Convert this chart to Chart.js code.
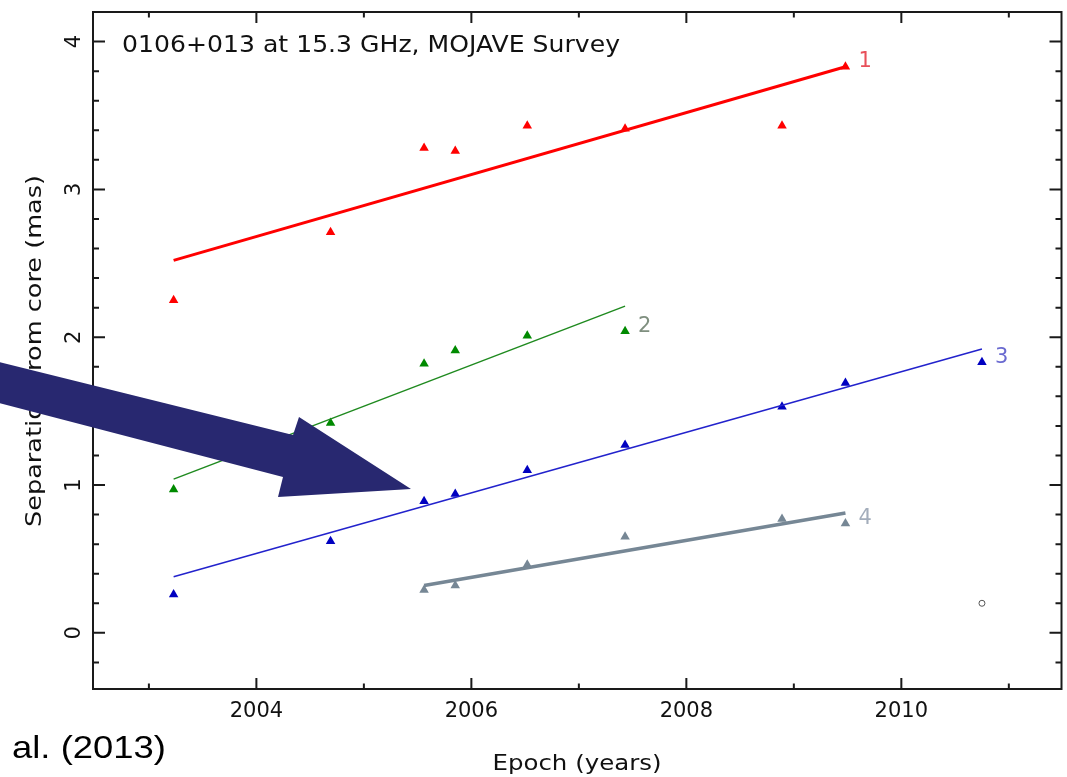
<!DOCTYPE html>
<html>
<head>
<meta charset="utf-8">
<script src="https://cdn.jsdelivr.net/npm/chart.js@4"></script>
<style>
  html, body { margin: 0; padding: 0; background: #ffffff; }
  #wrap { width: 1067px; height: 777px; }
</style>
</head>
<body>
<div id="wrap"><canvas id="c" width="1067" height="777"></canvas></div>
<script>
// ---- data ----
const epochs = [2003.23, 2004.69, 2005.56, 2005.85, 2006.52, 2007.43, 2008.89, 2009.48, 2010.75];
const comp1 = [2.25, 2.71, 3.28, 3.26, 3.43, 3.41, 3.43, 3.83];          // epochs 0..7
const comp2 = [0.97, 1.42, 1.82, 1.91, 2.01, 2.04];                      // epochs 0..5
const comp3 = [0.26, 0.62, 0.89, 0.94, 1.10, 1.27, 1.53, 1.69, 1.83];    // epochs 0..8
const comp4 = [0.29, 0.32, 0.46, 0.65, 0.77, 0.74];                      // epochs 2..7
const comp4Start = 2;
const coreEpoch = [2010.75];
const coreSep = [0.20];
// linear fits: [startEpoch, startSep, endEpoch, endSep]
const fit1 = [2003.23, 2.52, 2009.48, 3.83];
const fit2 = [2003.23, 1.04, 2007.43, 2.21];
const fit3 = [2003.23, 0.38, 2010.75, 1.92];
const fit4 = [2005.56, 0.32, 2009.48, 0.81];
const compLabels = ['1', '2', '3', '4'];
// ticks
const xMajor = [2004, 2006, 2008, 2010];
const xMinor = [2003, 2005, 2007, 2009, 2011];
const yMajor = [0, 1, 2, 3, 4];
const yMinor = [-0.2, 0.2, 0.4, 0.6, 0.8, 1.2, 1.4, 1.6, 1.8, 2.2, 2.4, 2.6, 2.8, 3.2, 3.4, 3.6, 3.8];
const xRange = [2002.48, 2011.49];
const yRange = [-0.38, 4.20];
const titleText = '0106+013 at 15.3 GHz, MOJAVE Survey';
const xTitle = 'Epoch (years)';
const yTitle = 'Separation from core (mas)';
const citeText = 'al. (2013)';

const colRed = '#ff0000', colGreen = '#008a00', colBlue = '#0000c0', colGray = '#768795';

function pts(vals, start) { return vals.map((v, i) => ({ x: epochs[start + i], y: v })); }
function fitPts(f) { return [{ x: f[0], y: f[1] }, { x: f[2], y: f[3] }]; }

const triStyle = (c) => ({ showLine: false, pointStyle: 'triangle', pointRadius: 5.5, backgroundColor: c, borderColor: c, pointBorderWidth: 0 });
const lineStyle = (c, w) => ({ showLine: true, pointRadius: 0, borderColor: c, borderWidth: w, backgroundColor: c });

const datasets = [
  Object.assign({ label: 'fit1', data: fitPts(fit1) }, lineStyle(colRed, 3)),
  Object.assign({ label: 'fit2', data: fitPts(fit2) }, lineStyle('#1f8a1f', 1.5)),
  Object.assign({ label: 'fit3', data: fitPts(fit3) }, lineStyle('#2222cc', 1.5)),
  Object.assign({ label: 'fit4', data: fitPts(fit4) }, lineStyle(colGray, 3.5)),
  Object.assign({ label: '1', data: pts(comp1, 0) }, triStyle(colRed)),
  Object.assign({ label: '2', data: pts(comp2, 0) }, triStyle(colGreen)),
  Object.assign({ label: '3', data: pts(comp3, 0) }, triStyle(colBlue)),
  Object.assign({ label: '4', data: pts(comp4, comp4Start) }, triStyle(colGray)),
  { label: 'core', data: coreEpoch.map((e, i) => ({ x: e, y: coreSep[i] })), showLine: false,
    pointStyle: 'circle', pointRadius: 3, backgroundColor: 'rgba(0,0,0,0)', borderColor: '#555', pointBorderWidth: 1 }
];

const labelColors = ['#e8505a', '#7f8f7f', '#6a6ad0', '#a3adbb'];
const labelSets = [4, 5, 6, 7];

// draw text stretched horizontally to a given width
function fitText(ctx, text, x, y, width, align) {
  const w = ctx.measureText(text).width;
  const s = width / w;
  ctx.save();
  ctx.translate(x, y);
  ctx.scale(s, 1);
  ctx.textAlign = align;
  ctx.fillText(text, 0, 0);
  ctx.restore();
}

const decor = {
  id: 'decor',
  afterDraw(chart) {
    const ctx = chart.ctx, a = chart.chartArea;
    const xs = chart.scales.x, ys = chart.scales.y;
    ctx.save();
    // frame
    ctx.strokeStyle = '#1a1a1a';
    ctx.lineWidth = 2;
    ctx.strokeRect(a.left, a.top, a.right - a.left, a.bottom - a.top);
    // ticks
    ctx.lineWidth = 2;
    ctx.beginPath();
    const xt = (v, len) => { const p = xs.getPixelForValue(v);
      ctx.moveTo(p, a.bottom); ctx.lineTo(p, a.bottom - len);
      ctx.moveTo(p, a.top); ctx.lineTo(p, a.top + len); };
    const yt = (v, len) => { const p = ys.getPixelForValue(v);
      ctx.moveTo(a.left, p); ctx.lineTo(a.left + len, p);
      ctx.moveTo(a.right, p); ctx.lineTo(a.right - len, p); };
    xMajor.forEach(v => xt(v, 11)); xMinor.forEach(v => xt(v, 5.5));
    yMajor.forEach(v => yt(v, 12)); yMinor.forEach(v => yt(v, 6));
    ctx.stroke();
    // tick labels
    ctx.fillStyle = '#111';
    ctx.font = '21px "DejaVu Sans"';
    ctx.textAlign = 'center'; ctx.textBaseline = 'alphabetic';
    xMajor.forEach(v => ctx.fillText(String(v), xs.getPixelForValue(v), 717));
    yMajor.forEach(v => {
      ctx.save(); ctx.translate(80, ys.getPixelForValue(v)); ctx.rotate(-Math.PI / 2);
      ctx.textBaseline = 'alphabetic'; ctx.fillText(String(v), 0, 0); ctx.restore();
    });
    // axis titles
    ctx.font = '22px "DejaVu Sans"';
    fitText(ctx, xTitle, 577, 770, 169, 'center');
    ctx.save(); ctx.translate(41, 351); ctx.rotate(-Math.PI / 2);
    fitText(ctx, yTitle, 0, 0, 352, 'center'); ctx.restore();
    // plot title
    ctx.font = '23px "DejaVu Sans"';
    fitText(ctx, titleText, 122, 52, 498, 'left');
    // component labels
    ctx.font = '21px "DejaVu Sans"';
    ctx.textBaseline = 'middle';
    ctx.textAlign = 'left';
    labelSets.forEach((di, k) => {
      const meta = chart.getDatasetMeta(di);
      const last = meta.data[meta.data.length - 1];
      ctx.fillStyle = labelColors[k];
      ctx.fillText(compLabels[k], last.x + 13, last.y - 5);
    });
    // overlay arrow
    ctx.fillStyle = '#282870';
    ctx.beginPath();
    ctx.moveTo(-5, 361); ctx.lineTo(293, 435); ctx.lineTo(299, 417);
    ctx.lineTo(411, 489); ctx.lineTo(278, 497); ctx.lineTo(283, 477);
    ctx.lineTo(-5, 402); ctx.closePath(); ctx.fill();
    // citation text
    ctx.fillStyle = '#000';
    ctx.font = '29px "Liberation Sans"';
    ctx.textBaseline = 'alphabetic';
    ctx.save(); ctx.translate(0, 0);
    ctx.scale(1, 1.05);
    fitText(ctx, citeText, 12, 758 / 1.05, 154, 'left');
    ctx.restore();
    ctx.restore();
  }
};

new Chart(document.getElementById('c'), {
  type: 'scatter',
  data: { datasets },
  options: {
    responsive: false, animation: false, devicePixelRatio: 1,
    layout: { padding: { left: 93, top: 12, right: 3, bottom: 88 } },
    plugins: { legend: { display: false }, tooltip: { enabled: false } },
    scales: {
      x: { type: 'linear', display: false, min: xRange[0], max: xRange[1] },
      y: { type: 'linear', display: false, min: yRange[0], max: yRange[1] }
    }
  },
  plugins: [decor]
});
</script>
</body>
</html>
